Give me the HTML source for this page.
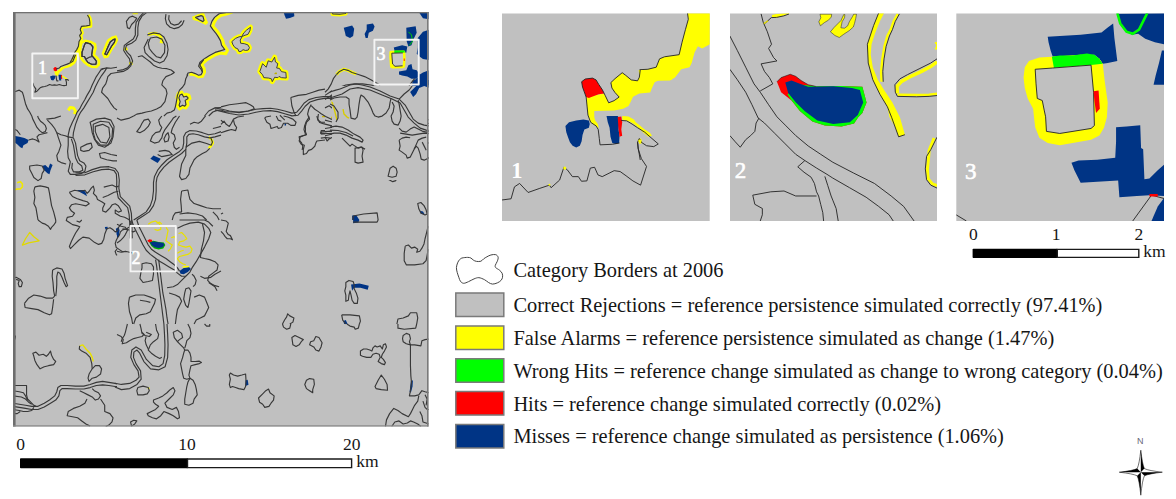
<!DOCTYPE html>
<html><head><meta charset="utf-8">
<style>
html,body{margin:0;padding:0;background:#fff;width:1176px;height:499px;overflow:hidden;}
body{position:relative;font-family:"Liberation Serif",serif;color:#161616;}
svg{position:absolute;left:0;top:0;}
svg path,svg rect,svg polyline,svg circle,svg ellipse{vector-effect:non-scaling-stroke;}
.t{position:absolute;white-space:nowrap;font-size:20.4px;line-height:1;}
.n{position:absolute;white-space:nowrap;font-size:17.5px;line-height:1;}
.lbl{position:absolute;white-space:nowrap;color:#fff;line-height:1;-webkit-text-stroke:0.6px #fff;}
</style></head><body>
<svg width="1176" height="499" viewBox="0 0 1176 499">
<defs>
<clipPath id="cm"><rect x="13" y="12" width="415.5" height="414.5"/></clipPath>
<clipPath id="c1"><rect x="502" y="13.5" width="207.7" height="207.5"/></clipPath>
<clipPath id="c2"><rect x="730" y="13.5" width="207" height="207.5"/></clipPath>
<clipPath id="c3"><rect x="956.3" y="13.5" width="207.7" height="207.5"/></clipPath>
</defs>
<!-- main map -->
<rect x="13" y="12" width="415.5" height="414.5" fill="#c0c0c0"/>
<g clip-path="url(#cm)" fill="none" stroke="#383838" stroke-width="1.15" stroke-linejoin="round">
<g id="mapcontent" vector-effect="non-scaling-stroke">
<g transform="translate(13,12) scale(0.20842)">
<g stroke="#ffff00" stroke-width="3">
<path d="M265,472 L275,458 L290,460 L300,475 L295,490"/>
</g>
<g>
<path d="M420,275 L450,268 L470,270 L499,265"/>
<path d="M435,270 L420,280 L410,295 L400,310 L390,330 L380,350 L370,375 L355,400 L345,420 L330,445 L320,465 L308,480 L300,499"/>
<path d="M450,268 L440,285 L425,305 L410,330 L395,360 L385,385 L370,410 L355,435 L340,460 L325,480 L315,499"/>
<path d="M499,290 L470,295 L455,310 L450,330 L445,345 L430,365 L425,385 L440,400 L455,415 L470,440 L485,460 L499,470"/>
<path d="M0,385 L15,380 L30,375 L45,385 L50,400 L55,420 L60,440 L70,465 L80,480 L90,499"/>
</g>
<g stroke="none">
</g>
</g>

<g transform="translate(117,12) scale(0.20842)">
<g stroke="#ffff00" stroke-width="3.2">
<path d="M75,3 L100,3"/>
<path d="M150,108 L180,102 L205,112 L215,135 L212,150"/>
<path d="M295,390 L310,385 L320,400 L330,395 L345,400 L350,415 L335,425 L340,445 L330,460 L315,455 L300,465 L290,450 L295,430 L288,410 Z"/>
<path d="M40,170 L45,185 M65,240 L68,255"/>
</g>
<g>
<path d="M145,0 L120,20 L105,45 L100,75 L100,110 L90,135 L70,150 L45,160 L40,180 L50,195 L65,210 L75,235 L65,260 L50,275 L30,285 L0,290"/>
<path d="M130,0 L108,25 L92,50 L88,80 L88,110 L78,130 L55,145 L35,160 L32,185 L45,205 L60,225 L65,250 L50,268 L25,278 L0,282"/>
<path d="M45,45 L60,25 L75,20 L95,30 L85,45 L70,60 L60,80 L50,75 Z"/>
<path d="M145,110 L175,100 L205,105 L225,120 L240,150 L245,180 L240,210 L225,235 L205,245 L180,235 L155,215 L135,195 L130,170 L140,150 L150,130"/>
<path d="M160,125 L190,120 L215,130 L230,160 L228,195 L210,220 L190,215 L170,195 L155,175 L150,150 Z"/>
<path d="M235,10 L232,32 L238,57 L255,73 L275,80 L297,74 L313,60 L322,40"/>
<path d="M250,15 L248,35 L258,55 L275,63 L295,58 L310,42"/>
<path d="M340,300 L330,320 L325,345 L315,360 L300,375 L290,400 L285,430 L280,455 L275,470 L260,480 L240,485 L225,499"/>
<path d="M302,398 L312,394 L320,408 L332,404 L340,410 L340,416 L327,424 L331,444 L325,452 L315,447 L302,455 L298,447 L303,430 L297,412 Z"/>
<path d="M100,215 L120,210 L140,225 L160,240 L175,255 L195,265 L215,270 L240,272 L260,278 L275,290 L260,300 L235,310 L220,330 L215,350 L235,370 L240,390 L235,410 L230,430 L210,455 L190,465 L165,475 L140,480 L120,485 L95,490 L80,499"/>
<path d="M420,499 L440,475 L470,460 L499,458"/>
<path d="M440,499 L460,480 L480,472 L499,470"/>
</g>
</g>

<g transform="translate(221,12) scale(0.20842)">
<g stroke="#ffff00" stroke-width="3.2">
</g>
<g>
<path d="M0,455 L40,445 L80,440 L120,435 L140,445 L155,455 L160,465 L130,475 L90,480 L50,480 L20,478 L0,470"/>
<path d="M335,410 L370,400 L410,395 L440,385 L470,375 L499,370"/>
<path d="M335,410 L340,450 L350,480 L360,499"/>
</g>
<path d="M300,0 L350,0 L352,20 L340,25 L325,30 L312,32 L305,15 Z" fill="#003485" stroke="none"/>
</g>

<g transform="translate(325,12) scale(0.20842)">
<g fill="#003485" stroke="none">
<path d="M450,0 L499,0 L499,35 L470,30 Z"/>
<path d="M90,75 L130,65 L140,80 L135,115 L120,125 L100,115 L95,95 Z"/>
<path d="M200,60 L230,55 L238,70 L230,90 L210,100 L205,125 L195,125 L190,105 L200,85 Z"/>
<path d="M390,75 L435,68 L440,100 L425,130 L415,160 L400,165 L392,140 Z"/>
<path d="M445,125 L470,95 L499,85 L499,230 L470,225 L455,215 L440,200 L445,170 Z"/>
<path d="M330,170 L370,160 L395,165 L390,195 L360,192 L335,192 Z"/>
<path d="M355,285 L390,280 L400,255 L415,250 L420,275 L440,280 L455,300 L440,320 L415,320 L395,310 L370,305 L355,300 Z"/>
<path d="M420,330 L440,320 L455,300 L470,290 L499,280 L499,350 L470,360 L445,370 L440,400 L425,410 L410,400 L415,370 Z"/>
</g>
<path d="M400,95 L415,110 L420,140 L405,160" stroke="#00cc00" stroke-width="1"/>
<g stroke="#ffff00" stroke-width="3">
<path d="M30,0 L35,12 L70,15 L100,10 L105,0"/>
<path d="M55,300 L70,285 L90,275 L110,280 L130,290 L150,298"/>
</g>
<path d="M35,420 L38,460 L42,499 M85,460 L92,480" stroke="#e8e000" stroke-width="1.5"/>
<g>
<path d="M34,2 L38,9 L70,11 L98,7 L101,0"/>
<path d="M55,300 L70,285 L90,275 L110,280 L130,290 L160,300 L190,310 L220,325 L245,340 L265,350"/>
<path d="M55,300 L40,320 L30,345 L15,370 L0,385"/>
<path d="M0,400 L30,380 L60,365 L100,350 L140,345 L180,345 L220,350 L260,360 L290,375 L310,395 L330,420 L360,440 L390,460 L420,480 L440,499"/>
<path d="M0,420 L30,400 L60,385 L100,370 L140,362 L180,362 L220,365 L260,375 L290,390 L305,410 L325,440 L355,460 L385,480 L400,499"/>
<path d="M430,320 L410,345 L395,370 L375,395 L360,410 L350,430"/>
<path d="M150,420 L165,400 L180,410 L200,430 L215,450 L230,480 L240,499"/>
<path d="M120,440 L130,470 L135,499"/>
<path d="M0,460 L20,450 L40,465 L50,499"/>
<path d="M330,440 L320,470 L310,499"/>
</g>
</g>

<g transform="translate(13,116) scale(0.20842)">
<g fill="#003485" stroke="none">
<path d="M5,95 L30,100 L55,105 L75,115 L70,130 L50,140 L45,155 L35,150 L20,135 L5,125 Z"/>
<path d="M140,240 L155,235 L170,250 L178,228 L190,235 L180,260 L175,280 L165,275 L150,260 Z"/>
<path d="M305,355 L340,355 L350,370 L355,385 L340,375 L320,365 Z"/>
</g>
<path d="M20,320 L35,315 L45,325 L45,340 L35,350 L20,350 L5,355" stroke="#f0e800" stroke-width="1.6"/>
<g>
<path d="M90,0 L95,15 L105,35 L115,55 L128,70 L140,80 L155,75 L160,60 L155,45 L145,35 L132,25 L122,10 L118,0"/>
<path d="M75,115 L95,110 L110,115 L125,125 L115,100 L125,90 L145,85 L165,80"/>
<path d="M160,15 L200,10 L230,0"/>
<path d="M165,20 L185,40 L200,60 L210,80 L230,90 L250,95 L265,100"/>
<path d="M210,80 L218,105 L230,140 L220,170 L210,190 L215,215 L235,225 L255,230"/>
<path d="M300,0 L285,30 L272,60 L265,90 L265,100"/>
<path d="M315,0 L300,40 L290,80 L288,100"/>
<path d="M265,100 L290,105 L300,130 L305,160 L310,190 L320,215 L340,225 L350,240 L345,265 L330,275 L300,280 L275,280 L265,265 L270,245 L275,220 L265,200 L262,170 L265,140 Z"/>
<path d="M280,110 L290,140 L295,170 L300,200 L312,225 L330,240 L335,260 L318,268 L290,268 L282,250 L285,225"/>
<path d="M370,30 L400,15 L440,10 L470,20 L485,50 L480,100 L470,130 L440,150 L410,140 L390,110 L380,80 L375,50 Z"/>
<path d="M385,40 L420,25 L460,30 L478,60 L475,105 L455,140 L420,140 L395,115 L385,80 Z"/>
<path d="M395,50 L430,40 L460,55 L465,100 L450,130 L420,125 L405,100 L395,75 Z"/>
<path d="M325,150 L355,135 L375,130 L380,150 L365,165 L340,170 L325,165 Z"/>
<path d="M499,190 L470,185 L440,175 L415,180 L420,200 L450,210 L480,215 L499,215"/>
<path d="M80,240 L115,235 L140,240 L150,260 L140,275 L135,300 L120,310 L100,295 L90,275 L80,255 Z"/>
<path d="M105,340 L130,335 L155,340 L170,345 L175,370 L180,400 L185,430 L195,460 L205,499"/>
<path d="M105,340 L100,360 L105,390 L100,420 L110,440 L115,470 L120,499"/>
<path d="M0,60 L20,70 L35,90"/>
</g>
</g>

<g transform="translate(117,116) scale(0.20842)">
<path d="M160,205 L175,190 L210,205 L195,225 Z" fill="#003485" stroke="none"/>
<path d="M440,100 L455,115 L460,130 L450,145 L440,155" stroke="#ffff00" stroke-width="2.5"/>
<g>
<path d="M80,499 L110,480 L140,460 L160,430 L170,400 L175,360 L175,320 L180,290 L195,260 L215,235 L240,210 L270,190 L300,170 L315,155 L320,130 L320,100 L330,80 L350,70 L380,72 L410,80 L440,90 L470,85 L499,75"/>
<path d="M95,499 L125,480 L155,460 L175,430 L185,400 L188,360 L188,320 L192,295 L205,270 L225,245 L250,222 L280,200 L310,180 L330,160 L335,130 L335,100 L345,88 L365,85 L390,90 L420,100 L445,105 L470,100 L499,92"/>
<path d="M330,150 L360,130 L395,122 L430,132 L452,140 L458,125 L450,105"/>
<path d="M0,10 L20,20 L40,15 L60,10 L80,0"/>
<path d="M130,20 L150,15 L160,30 L150,50 L130,70 L110,80 L95,75 L110,55 L120,35 Z"/>
<path d="M215,0 L200,20 L205,40 L215,55 L205,75 L185,80 L170,95 L160,120 L180,130 L200,125 L215,105 L220,85 L230,65 L245,45 L260,25 L270,10 L285,0"/>
<path d="M245,80 L250,100 L245,120 L230,125 L225,110 L235,90 Z"/>
<path d="M300,0 L280,30 L265,60 L260,80 L275,90 L280,110 L270,130 L275,150 L285,160 L300,150"/>
<path d="M200,170 L230,165 L250,170 L265,185 L240,190 L215,195 L195,185"/>
<path d="M330,160 L330,190 L320,210 L310,230 L305,260 L300,290 L310,305 L330,300 L345,280 L350,250 L360,230 L370,210 L385,195 L410,180 L430,170 L445,155"/>
<path d="M350,40 L370,30 L390,35 L405,25 L420,5 L425,0"/>
<path d="M460,60 L480,55 L499,50"/>
<path d="M310,360 L340,355 L345,380 L350,400 L370,420 L400,430 L430,440 L460,445 L499,445"/>
<path d="M310,360 L305,400 L308,430 L310,460 L280,465 L270,480 L265,499"/>
<path d="M300,470 L340,465 L380,470 L410,480 L430,499"/>
<path d="M460,460 L480,480 L490,499"/>
</g>
</g>

<g transform="translate(221,116) scale(0.20842)">
<path d="M305,35 L312,35 L312,45 L305,45 Z" fill="#003485" stroke="none"/>
<path d="M485,3 L499,3" stroke="#c8b400" stroke-width="1.2"/>
<g>
<path d="M0,40 L15,25 L25,40 L40,50 L50,35 L60,15 L80,5 L110,0"/>
<path d="M0,80 L30,70 L50,65 L70,70 L75,55 L65,40 L60,20"/>
<path d="M0,20 L10,30"/>
<path d="M240,0 L215,5 L210,10 L220,30 L235,40 L240,60 L255,55 L270,50 L275,60 L290,55 L300,35 L320,35 L335,45 L355,45 L360,30 L345,15 L320,5 L300,0"/>
<path d="M265,0 L275,20 L290,25"/>
<path d="M420,0 L425,15 L410,30 L405,50 L405,75 L410,90 L395,95 L380,100 L375,120 L385,135 L400,140 L395,160 L395,185 L410,180 L420,165 L435,160 L450,145 L455,130 L460,120 L499,115"/>
<path d="M460,0 L465,20 L480,30 L499,30"/>
<path d="M480,70 L499,70 M480,85 L499,85 M480,70 L480,85"/>
<path d="M0,470 L10,465"/>
</g>
</g>

<g transform="translate(325,116) scale(0.20842)">
<g fill="#003485" stroke="none">
<path d="M455,455 L470,458 L478,472 L460,470 Z"/>
<path d="M130,478 L150,476 L165,499 L130,499 Z"/>
</g>
<path d="M30,5 L45,20 L60,15 M90,3 L112,8" stroke="#d8cc00" stroke-width="1.3"/>
<g>
<path d="M0,20 L20,25 L40,30 L60,20"/>
<path d="M125,0 L130,15 L150,20 L160,10 L160,0"/>
<path d="M0,60 L30,55 L60,50 L80,55 L110,75 L140,90 L170,105 L180,115 L185,125 L175,125 L160,120 L140,110 L120,100 L100,95 L80,90 L60,85 L40,85 L20,90 L0,95"/>
<path d="M0,75 L40,72 L80,80 L120,100 L150,115 L170,130"/>
<path d="M0,100 L10,120 L20,110 L40,100 L60,95"/>
<path d="M90,120 L100,135 L130,150 L145,160"/>
<path d="M145,160 L180,150 L195,165 L185,185 L185,220 L170,230 L150,225 L145,200 Z"/>
<path d="M300,290 L310,260 L315,240 L325,245 L340,255 L350,270 L340,290 L340,310 L325,315 L305,305 Z"/>
<path d="M330,0 L325,20 L340,35 L350,30 L360,10 L370,0"/>
<path d="M400,0 L420,20 L445,35 L470,40 L499,35"/>
<path d="M440,0 L460,15 L480,20 L499,18"/>
<path d="M355,80 L370,60 L390,55 L410,50 L430,40 L450,50 L470,60 L490,65"/>
<path d="M355,120 L350,150 L355,180 L370,195 L390,205 L400,190 L410,170 L420,150 L430,145 L440,160 L450,180 L460,200 L475,210 L490,205 L499,200"/>
<path d="M360,95 L380,100 L410,95 L440,90 L470,100 L490,110"/>
<path d="M360,120 L400,120 L440,110 L470,120 L499,130"/>
<path d="M355,80 L360,95 L360,120"/>
<path d="M460,130 L475,150 L480,170"/>
<path d="M445,420 L460,415 L475,430 L485,450 L490,470 L480,475 L460,465 L450,445 Z"/>
<path d="M135,480 L185,470 L250,465 L255,499 M135,480 L135,499"/>
</g>
</g>

<g transform="translate(13,220) scale(0.20842)">
<g fill="#003485" stroke="none">

</g>
<path d="M45,120 L60,90 L80,60 L100,80 L125,100 L100,105 L75,110 Z" stroke="#e0d800" stroke-width="1.3"/>
<g>
<path d="M120,0 L140,15 L155,20 L170,30 L180,45 L185,35 L195,25 L205,10 L205,0"/>
<path d="M330,0 L320,10 L305,5"/>
<path d="M499,140 L490,150 L495,165 L499,170"/>
<path d="M190,240 L210,230 L235,235 L245,255 L250,280 L262,315 L255,320 L245,300 L235,275 L225,255 L215,250 L210,270 L210,310 L208,340 L205,365"/>
<path d="M190,240 L188,270 L192,300 L195,340 L200,365"/>
<path d="M55,400 L75,375 L100,360 L130,365 L160,375 L190,375 L200,365"/>
<path d="M55,400 L58,420 L90,425 L120,430 L150,445 L175,455 L185,450 L190,420 L195,380"/>
<path d="M0,280 L15,275 L35,285 L45,300 L40,320 L30,320 L25,305 L30,290 L15,285"/>
</g>
</g>

<g transform="translate(117,220) scale(0.20842)">
<g stroke="#e8e000" stroke-width="1.2">
<path d="M150,20 L165,10 L185,5 L200,15 L210,30 L210,45 L195,50 L180,45"/>
<path d="M190,15 L205,10 L215,20"/>
<path d="M235,35 L245,50 L240,75 L235,100 L250,110 L265,120 L255,140 L245,150"/>
<path d="M260,85 L275,80 L285,95 L280,110"/>
<path d="M295,65 L310,60 L325,75 L335,90 L320,100 L300,105 L295,120 L310,125 L330,130 L350,125 L360,140 L355,155 L340,165 L320,170 L300,175 L290,185 L300,200 L315,210 L330,215"/>
<path d="M290,160 L305,150 L320,145"/>
</g>
<path d="M145,100 L155,92 L167,95 L172,105 L160,112 Z" fill="#ff0000" stroke="none"/>
<path d="M155,108 L175,100 L200,105 L225,108 L232,120 L222,137 L200,141 L180,137 L165,125 Z" fill="#00b000" stroke="none"/>
<path d="M158,108 L175,103 L200,107 L222,110 L227,120 L218,131 L200,134 L182,131 L168,122 Z" fill="#003485" stroke="none"/>
<path d="M300,245 L320,230 L345,225 L355,235 L340,250 L320,260 L305,258 Z" fill="#003485" stroke="none"/>
<path d="M315,225 L345,223" stroke="#ffff00" stroke-width="1.5"/>
<path d="M0,60 L10,60 L10,80 L0,85 Z" fill="#003485" stroke="none"/>
<g>
<path d="M70,0 L80,30 L95,60 L110,90 L125,120 L140,145 L160,165 L180,180 L200,195 L225,210 L250,225 L275,240 L290,255 L310,270 L330,270"/>
<path d="M95,0 L105,30 L120,60 L135,90 L150,120 L165,140 L185,155 L210,170 L235,185 L255,200 L275,215 L290,230 L300,245"/>
<path d="M185,190 L190,220 L195,260 L200,300 L205,340 L210,380 L215,420 L220,460 L225,499"/>
<path d="M200,190 L205,230 L210,270 L215,310 L220,350 L228,390 L235,430 L240,470 L245,499"/>
<path d="M290,40 L320,25 L350,15 L390,10 L420,20 L440,40 L450,60 L440,90 L420,130 L400,165 L380,200 L360,230 L350,250 L330,270 L310,290 L290,310 L270,320 L240,325"/>
<path d="M300,0 L380,0 L420,0 L440,10 L460,30"/>
<path d="M410,20 L420,60 L415,100 L405,140 L400,180 L420,185 L445,190 L470,200 L485,215 L480,240 L460,255 L440,270 L435,290 L450,305 L470,315 L490,320"/>
<path d="M360,260 L370,270 L380,290 L375,310 L365,320"/>
<path d="M0,150 L20,155 L40,150 L60,155 L80,160"/>
<path d="M0,20 L20,30 L40,35 L50,50 L40,70 L30,85 L15,100 L0,110"/>
<path d="M120,210 L140,205 L165,210 L175,225 L175,260 L170,290 L150,295 L125,300 L110,280 L115,250 L120,230 Z"/>
<path d="M60,370 L90,360 L130,360 L160,370 L185,380 L180,400 L170,420 L160,440 L140,450 L110,455 L90,470 L80,499"/>
<path d="M60,370 L55,400 L60,440 L70,470 L75,499"/>
<path d="M110,385 L140,390 L160,395"/>
<path d="M330,330 L345,325 L355,340 L350,370 L345,400 L340,420 L330,410 L320,380 L325,350 Z"/>
<path d="M370,370 L395,360 L420,370 L430,395 L440,420 L430,440 L420,460 L400,470 L380,480 L370,499"/>
<path d="M250,350 L280,360 L300,370 L310,390 L300,410 L290,430 L285,460 L280,499"/>
<path d="M400,270 L420,280 L450,275 L470,260 L490,250 L499,245"/>
<path d="M440,300 L470,320 L480,340"/>
</g>
</g>

<g transform="translate(221,220) scale(0.20842)">
<path d="M0,0 L25,5 L35,15 L30,35 L25,55 L35,70 L45,75 L55,95 L45,90 L30,90 L20,80 L10,65 L0,55"/>
<path d="M295,499 L305,480 L315,465 L320,450 L330,460 L350,470 L345,490 L330,499"/>
</g>

<g transform="translate(325,220) scale(0.20842)">
<g fill="#003485" stroke="none">
<path d="M135,0 L165,0 L160,12 L135,15 Z"/>
<path d="M125,310 L165,305 L210,315 L205,335 L170,325 L140,325 L130,340 Z"/>
<path d="M88,485 L100,480 L108,499 L92,499 Z"/>
</g>
<g>
<path d="M135,10 L250,10 L255,0"/>
<path d="M385,125 L400,120 L415,135 L430,130 L445,140 L440,155 L455,150 L465,135 L475,115 L480,90 L485,70 L490,50 L495,30"/>
<path d="M385,125 L380,160 L380,195 L390,215 L430,215 L470,210 L485,195 L490,170 L495,140"/>
<path d="M100,300 L115,290 L135,295 L140,310 L140,330 L150,350 L158,375 L155,400 L140,400 L130,385 L125,360 L120,340 L115,360 L112,385 L100,390 L100,360 L95,340 L100,320 Z"/>
<path d="M80,455 L120,455 L165,460 L170,485 L165,499 M80,455 L85,480 L100,499"/>
<path d="M345,499 L350,475 L375,470 L400,460 L410,445 L440,445 L445,470 L440,499"/>
</g>
</g>

<g transform="translate(13,324) scale(0.20842)">
<path d="M320,105 L335,100 L350,120 L370,140 L380,160 L385,180" stroke="#e8e000" stroke-width="1.4"/>
<g>
<path d="M95,140 L110,135 L125,150 L145,145 L160,155 L170,145 L180,130 L185,150 L195,170 L205,180 L195,195 L170,200 L150,205 L130,215 L115,195 L105,175 L100,155 Z"/>
<path d="M320,105 L318,120 L330,130 L350,140 L370,160 L378,190 L380,215"/>
<path d="M380,215 L395,200 L415,200 L425,215 L420,240 L400,255 L380,260 L365,275 L360,260 L365,240 Z"/>
<path d="M0,380 L30,385 L60,390 L90,395 L120,395 L150,380 L175,365 L200,345 L210,325 L215,305 L230,295 L260,295 L300,298 L340,298 L370,290 L400,280 L430,275 L460,280 L490,285 L499,288"/>
<path d="M0,395 L30,400 L60,405 L90,410 L120,410 L150,398 L180,380 L205,365 L220,345 L225,320 L235,310 L260,310 L300,312 L340,312 L370,305 L400,295 L430,292 L460,295 L490,300 L499,300"/>
<path d="M0,295 L65,295 L65,340 L70,360 L85,375 L100,390 L110,395"/>
<path d="M0,320 L30,325 L50,330 L60,345 L70,365"/>
<path d="M0,345 L40,350 L60,360 L75,375 L90,385"/>
<path d="M0,410 L30,415 L50,420 L70,420 L90,415 L100,400"/>
<path d="M0,430 L20,430 L35,420"/>
<path d="M320,320 L340,330 L360,340 L380,350 L395,365 L410,360 L420,345 L410,330 L390,320 L380,310"/>
<path d="M355,360 L345,380 L320,395 L290,405 L265,420 L260,440 L285,445 L310,450 L330,465 L350,480 L370,490"/>
<path d="M420,360 L440,390 L440,420 L465,430 L480,450 L475,470 L460,485 L445,492"/>
<path d="M5,50 L12,60 L8,75"/>
</g>
</g>

<g transform="translate(117,324) scale(0.20842)">
<circle cx="152" cy="308" r="5" fill="#ffff00" stroke="none"/>
<g>
<path d="M0,50 L20,60 L30,75 L25,95 L45,90 L60,80 L80,70 L100,65 L120,60 L130,50 L120,40"/>
<path d="M50,0 L45,20 L40,40 L35,55 L25,70 L20,85"/>
<path d="M110,0 L115,20 L120,45 L135,55 L155,60 L165,50 L140,40"/>
<path d="M185,0 L190,30 L200,50 L195,70 L175,85 L160,100 L150,125 L165,140 L185,155 L205,165 L215,160"/>
<path d="M140,60 L135,80 L140,100 L150,120"/>
<path d="M270,40 L290,30 L310,45 L315,65 L300,75 L290,85 L275,65 Z"/>
<path d="M290,85 L305,100 L320,115 L325,125 L340,125 L350,140 L355,160 L355,180 L375,180 L395,178 L405,185 L395,190 L375,195 L355,200 L350,220 L345,245 L350,260 L335,265 L320,260 L315,240 L310,215 L305,190 L315,160 L320,140 L325,125"/>
<path d="M340,0 L350,20 L355,45 L350,65 L335,80 L330,100 L325,115"/>
<path d="M350,260 L365,270 L375,290 L380,310 L385,340 L370,360 L365,380 L345,390 L325,385 L325,360 L330,330 L335,300 L340,280 L350,260"/>
<path d="M420,0 L430,10 L445,10 L445,0"/>
<path d="M175,365 L200,355 L220,345 L240,330 L255,315 L270,305 L278,320 L270,340 L250,360 L230,380 L240,400 L265,410 L285,400 L295,420 L300,450 L290,455 L270,440 L250,430 L225,420 L210,440 L190,455 L170,450 L150,440 L145,430 L165,420 L185,410 L200,395 L185,385 L175,375 Z"/>
<path d="M100,305 L125,298 L150,305 L155,320 L145,335 L125,340 L100,340 L95,320 Z"/>
<path d="M65,470 L80,462 L95,465 L85,480 L70,490 Z"/>
</g>
</g>

<g transform="translate(221,324) scale(0.20842)">
<path d="M118,270 L128,268 L132,292 L118,298 Z" fill="#003485" stroke="none"/>
<g>
<path d="M295,0 L300,15 L315,25 L330,20 L335,0"/>
<path d="M340,65 L355,55 L375,65 L395,75 L385,85 L375,100 L360,108 L345,100 Z"/>
<path d="M430,85 L445,80 L455,60 L470,65 L485,90 L480,110 L470,130 L455,125 L445,110 L425,100 Z"/>
<path d="M45,235 L60,245 L80,250 L100,245 L118,240 L120,270 L118,300 L110,315 L85,310 L70,305 L55,300 L45,305 L40,290 L45,265 L40,245 Z"/>
<path d="M180,355 L200,335 L215,320 L228,312 L235,330 L255,345 L252,365 L240,380 L230,395 L210,400 L200,385 L185,375 Z"/>
<path d="M410,270 L425,262 L445,265 L448,290 L440,315 L440,330 L425,320 L410,310 L402,290 Z"/>
</g>
</g>

<g transform="translate(325,324) scale(0.20842)">
<path d="M412,275 L422,270 L420,300 L412,330 L406,325 Z" fill="#003485" stroke="none"/>
<g>
<path d="M105,0 L120,10 L140,15 L145,25 L160,20 L165,0"/>
<path d="M350,0 L350,20 L380,25 L435,20 L440,0"/>
<path d="M170,130 L185,120 L200,120 L215,125 L225,130 L230,115 L240,105 L250,110 L265,105 L275,120 L280,100 L290,95 L295,110 L285,130 L275,145 L270,160 L280,170 L290,185 L285,195 L270,190 L255,180 L265,160 L260,145 L245,140 L230,145 L220,160 L200,160 L180,155 L170,150 Z"/>
<path d="M240,300 L255,270 L270,245 L285,265 L298,290 L300,318 L270,315 L245,310 Z"/>
<path d="M375,55 L390,45 L405,50 L410,70 L405,85 L410,100 L390,95 L375,85 L372,70 Z"/>
<path d="M410,100 L430,100 L460,105 L465,80 L480,75 L499,72"/>
<path d="M410,100 L410,150 L410,200 L412,250 L415,280 L410,320 L405,345 L430,345 L450,340 L465,320 L480,325 L499,330"/>
<path d="M450,345 L445,370 L430,390 L420,410 L410,430 L400,445 L370,430 L350,415 L330,405 L310,430 L295,460 L290,492"/>
<path d="M320,492 L335,470 L355,465 L375,480 L395,475 L410,465 L425,470 L445,480 L460,492"/>
<path d="M470,370 L480,400 L490,410 L499,410"/>
<path d="M455,420 L465,440 L470,470 L485,475 L499,480"/>
<path d="M480,340 L490,360 L485,390"/>
</g>
</g>

<g transform="translate(215,90) scale(0.12024)">
<path d="M0,150 L60,160 L120,175 L200,188 L280,175 L340,160 L400,155 L460,152 L520,160 L580,175 L640,192 L680,185 L710,150 L740,110 L780,80 L840,62 L900,55 L960,55 L998,60"/>
<path d="M0,165 L60,180 L120,195 L200,208 L280,200 L340,185 L400,175 L460,172 L520,180 L580,198 L640,215 L690,210 L720,175 L750,135 L790,100 L850,80 L910,70 L960,68 L998,70"/>
<path d="M800,120 L780,160 L770,200 L780,230 L760,260 L745,300 L740,330 L750,360 L760,370 L730,380 L700,390 L705,420 L720,440 L730,470 L725,499"/>
<path d="M800,130 L830,160 L860,180 L880,195 L920,220 L960,240 L998,250"/>
<path d="M860,200 L855,240 L870,270 L900,280 L940,290 L980,300 L998,300"/>
<path d="M880,350 L940,345 L998,340 M880,365 L940,362 L998,360 M880,350 L880,365"/>
<path d="M880,400 L920,395 L960,400"/>
<path d="M540,210 L560,230 L580,250"/>
</g>

<g transform="translate(70,15) scale(0.12024)">
<path d="M152,0 L168,25 L174,60 L174,94 L137,98 L103,103 L95,122 L104,150 L90,172 L99,196 L85,222 L80,260 L64,292 L50,313 L40,342 L25,372 L10,398 L0,412" stroke="#ffff00" stroke-width="2.8"/>
<path d="M125,215 L175,225 L208,242 L212,278 L202,312 L200,335 L225,355 L240,378 L240,412 L218,433 L180,430 L148,414 L118,390 L98,368 L88,340 L84,300 L88,262 L95,230 Z" stroke="#ffff00" stroke-width="2.6"/>
<path d="M130,230 L170,240 L190,265 L185,300 L180,335 L205,365 L220,385 L215,410 L180,410 L150,395 L135,375 L120,345 L100,345 L100,310 L110,280 L120,250 Z" fill="#c0c0c0"/>
<path d="M275,320 L290,280 L305,240 L320,210 L350,190 L380,180 L390,205 L375,240 L350,275 L330,310 L310,345 L290,350 Z" stroke="#ffff00" stroke-width="2.6"/>
<path d="M290,325 L305,290 L320,255 L335,225 L360,205 L375,200 L370,225 L345,260 L325,295 L305,330 Z" fill="#c0c0c0"/>
<path d="M145,0 L160,25 L165,60 L165,85 L135,90 L95,95 L85,120 L95,150 L80,170 L90,195 L75,220 L70,260 L55,290 L40,310 L30,340 L15,370 L0,395"/>
<path d="M130,230 L170,240 L190,265 L185,300 L180,335 L205,365 L220,385 L215,410 L180,410 L150,395 L135,375 L120,345 L100,345 L100,310 L110,280 L120,250 Z"/>
<path d="M135,365 L165,350 L185,345"/>
<path d="M290,325 L305,290 L320,255 L335,225 L360,205 L375,200 L370,225 L345,260 L325,295 L305,330 Z"/>
</g>

<g transform="translate(40,50) scale(0.08016)">
<path d="M465,0 L452,65 L425,135 L385,172 L342,190 L300,205 L262,215 L235,245 L205,265 L180,262 L185,300 L200,320 L230,320 L235,290 L265,262 L300,232 L345,222 L390,205 L435,172 L470,110 L490,40 L490,0 Z" fill="#ffff00" stroke="none"/>
<path d="M168,232 L180,214 L200,212 L214,232 L212,258 L190,265 L172,255 Z" fill="#ff0000" stroke="none"/>
<path d="M125,330 L160,318 L195,322 L185,355 L165,382 L140,375 Z" fill="#003485" stroke="none"/>
<path d="M230,310 L262,308 L265,380 L240,382 Z" fill="#003485" stroke="none"/>
<path d="M262,310 L275,312 L276,362 L264,362 Z" fill="#ff0000" stroke="none"/>
<path d="M275,318 L300,330 L330,350 L352,372 L340,378 L312,358 L285,340 L272,332 Z" fill="#ffff00" stroke="none"/>
<path d="M445,55 L410,140 L380,158 L340,176 L300,190 L260,205 L240,225 L215,232 L200,240"/>
<path d="M200,320 L205,360 L210,385 L230,385"/>
<path d="M0,470 L30,460 L60,455 L90,445 L120,430 L150,440 L180,435 L210,440 L240,430 L270,440 L300,445 L330,440 L330,400 L320,370 L345,370 L360,380"/>
</g>

<g transform="translate(225,20) scale(0.08016)">
<path d="M85,270 L130,230 L175,210 L210,205 L235,160 L270,125 L318,90 L310,135 L285,180 L250,190 L215,205 L190,250 L195,290 L240,295 L285,310 L305,345 L290,375 L255,380 L225,370 L200,392 L175,395 L160,360 L125,345 L100,310 Z" stroke="#ffff00" stroke-width="5" fill="none"/>
<path d="M85,270 L130,230 L175,210 L210,205 L235,160 L270,125 L318,90 L310,135 L285,180 L250,190 L215,205 L190,250 L195,290 L240,295 L285,310 L305,345 L290,375 L255,380 L225,370 L200,392 L175,395 L160,360 L125,345 L100,310 Z" fill="#c0c0c0" stroke="#333" stroke-width="0.9"/>
</g>
<g transform="translate(255,50) scale(0.08016)">
<path d="M60,270 L95,170 L140,215 L165,135 L210,150 L245,90 L255,150 L285,170 L270,225 L305,230 L330,270 L385,280 L390,350 L330,345 L300,330 L285,345 L245,340 L215,395 L205,360 L170,350 L110,345 L95,310 Z" stroke="#ffff00" stroke-width="5" fill="none"/>
<path d="M60,270 L95,170 L140,215 L165,135 L210,150 L245,90 L255,150 L285,170 L270,225 L305,230 L330,270 L385,280 L390,350 L330,345 L300,330 L285,345 L245,340 L215,395 L205,360 L170,350 L110,345 L95,310 Z" fill="#c0c0c0" stroke="#333" stroke-width="0.9"/>
<path d="M245,300 L262,285 L270,300" stroke="#bbb000" stroke-width="1.2"/>
</g>

<g transform="translate(117,324) scale(0.20842)">
<path d="M-10,284 L21,290 L61,285 L91,270 L106,255 L101,225 L81,195 L66,160 L71,125 L91,110 L116,125 L141,170 L171,200 L201,205 L221,190 L229,150 L230,100 L228,50 L225,0"/>
<path d="M-10,302 L21,315 L61,310 L96,290 L116,265 L113,225 L91,190 L79,160 L81,135 L96,125 L109,140 L129,180 L161,215 L201,220 L231,205 L243,160 L245,100 L243,50 L240,0"/>
</g>

<g transform="translate(13,130) scale(0.20842)">
<path d="M300,205 L345,205 L380,190 L420,178 L460,176 L490,185 L505,205 L510,240 L508,280 L515,320 L540,345 L560,365 L568,400 L570,440 L572,520"/>
<path d="M300,218 L345,215 L385,200 L425,190 L460,188 L485,195 L496,212 L498,245 L497,285 L505,325 L530,352 L550,372 L557,405 L560,445 L562,520"/>
</g>

<rect x="332" y="86" width="96" height="94" fill="#c0c0c0" stroke="none"/>
<g transform="translate(330,80) scale(0.2004)">
<path d="M400,60 L420,40 L440,20 L460,0 L499,0 L499,40 L470,30 L445,40 L430,70 L415,85 Z" fill="#003485" stroke="none"/>
<path d="M10,110 L20,140 L25,160 L30,180 L35,200 M65,145 L70,170 L85,185 L95,190" stroke="#d8cc00" stroke-width="1.4"/>
<path d="M50,45 L100,25 L130,20 L160,25 L200,35 L250,55 L300,80 L345,95 L375,125 L395,160 L415,195 L440,215 L470,225 L499,230"/>
<path d="M0,90 L30,80 L60,70 L100,45 L140,38 L200,50 L260,75 L310,95 L350,115 L370,150 L390,185 L420,215 L450,240 L480,250 L499,252"/>
<path d="M0,60 L25,52 L50,45"/>
<path d="M0,100 L20,90 L50,85 L80,85 L95,95 L95,120 L100,150 L105,190 L125,195 L135,185 L140,160 L145,120 L150,90 L155,75 L170,85 L190,110 L205,140 L215,165 L225,180 L240,185 L260,180 L280,165 L295,140 L300,110 L305,90"/>
<path d="M0,120 L20,130 L40,160 L40,190 L30,210"/>
<path d="M0,235 L30,230 L60,235 L90,250 L120,270 L150,285 L165,300 L160,310 L140,300 L110,290 L80,275 L50,265 L20,265 L0,270"/>
<path d="M0,250 L40,252 L80,262 L115,280"/>
<path d="M60,290 L80,310 L100,330 L110,320 L125,330 L140,340 L155,335 L175,345"/>
<path d="M125,340 L160,335 L165,350 L160,380 L165,410 L140,415 L125,410 L125,380 Z"/>
<path d="M310,110 L320,130 L315,160 L305,180 L310,205 L320,220 L340,225 L350,205 L355,180 L350,150 L345,120 L340,100"/>
<path d="M345,240 L360,255 L380,260 L400,245 L420,235 L440,245 L460,255 L480,260 L499,255"/>
<path d="M350,265 L380,270 L410,275 L440,270 L470,265 L499,268"/>
<path d="M345,300 L350,330 L345,350 L360,360 L380,375 L385,390 L400,385 L410,365 L420,345 L430,330 L440,340 L450,370 L455,395 L470,400 L490,390 L499,385"/>
<path d="M345,300 L360,290 L380,285 L400,288"/>
<path d="M420,345 L440,300 L460,290 L480,285"/>
<path d="M460,310 L470,330 L480,350"/>
<path d="M300,440 L315,430 L330,440 L335,460 L330,480 L310,485 L290,480 L295,460 Z"/>
<path d="M345,95 L370,70 L395,50 L410,30"/>
</g>

<g transform="translate(60,160) scale(0.20842)">
<path d="M215,322 L228,320 L230,332 L218,334 Z M268,330 L282,322 L286,340 L280,368 L272,360 Z" fill="#003485" stroke="none"/>
<path d="M45,155 L70,145 L95,150 L120,145 L130,160 L140,150 L150,135 L160,125 L165,145 L160,160 L175,175 L180,190 L200,200 L215,210 L205,230 L205,245 L220,250 L230,240 L240,230 L250,215 L265,210 L280,220 L290,235 L295,245 L280,250 L265,240 L265,255 L290,270 L310,275 L330,285 L340,300 L335,320 L320,330 L300,335 L290,345 L285,360 L275,375 L270,385 L265,400 L270,420 L285,430 L300,440 L320,440"/>
<path d="M45,155 L60,175 L80,185 L110,195 L130,200 L140,210 L125,220 L100,215 L75,210 L55,215 L45,230 L55,245 L70,255 L60,270 L35,275 L30,290 L45,300 L60,310 L80,315 L95,320 L85,335 L75,350 L65,370 L55,390 L45,415 L50,425 L70,405 L90,385 L110,370 L140,375 L165,395 L185,405 L200,400 L210,380 L215,355 L225,330 L240,325 L255,335 L265,345 L275,340 L280,325 L290,310 L300,305"/>
<path d="M210,130 L250,120 L270,130 L282,125"/>
<path d="M205,180 L230,170 L260,155 L280,150"/>
<path d="M300,330 L330,335 L350,345 L362,340"/>
</g>

<g transform="translate(180,12) scale(0.12024)">
<path d="M435,0 L385,17 L336,30 L303,56 L285,84 L272,115 L288,136 L313,165 L333,195 L354,232 L364,272 L395,318 L380,348 L337,341 L298,353 L255,378 L217,402 L185,430 L176,450 L194,472 L204,499" stroke="#ffff00" stroke-width="3"/>
<path d="M425,-5 L375,5 L325,15 L287,45 L265,78 L252,115 L272,145 L297,175 L317,205 L336,238 L346,278 L372,312 L335,323 L292,336 L245,362 L203,388 L165,420 L155,450 L176,478 L186,499"/>
<path d="M100,40 L150,18 L198,2 L212,40 L234,90 L215,108 L180,92 L150,77 L108,66 Z" fill="#ffff00" stroke="none"/>
<path d="M130,45 L175,30 L190,35 L200,70 L190,80 L160,65 Z" fill="#c0c0c0"/>
<path d="M150,0 L195,0 L200,5"/>
</g>

<g transform="translate(170,60) scale(0.12024)">
<path d="M300,-5 L266,40 L285,70 L289,102 L272,136 L240,142 L210,128 L180,118 L160,120" stroke="#ffff00" stroke-width="2.6"/>
<path d="M282,-5 L248,40 L266,72 L270,100 L258,122 L238,127 L210,113 L180,102 L150,108 L140,128"/>
</g>

<g transform="translate(13,12) scale(0.20842)">
<path d="M95,340 L100,355 L110,370 L105,385 L115,380 L130,364"/>
</g>

<path d="M389.4,52 Q389.6,50.8 391,50.8 L404,50.6 Q405.3,50.7 405.3,52 L405.6,58 L405.2,66 Q405,68.2 402.5,68.2 L392.2,68.4 Q390,68.3 389.9,66 L389.3,57 Z" fill="#ffff00" stroke="none"/>
<path d="M394.3,50.6 L404.3,50.6 L405,52.6 L394.3,53 Z" fill="#00ff00" stroke="none"/>
<path d="M391.8,53.2 L402.8,52.9 L403.2,60 L402.6,65.8 L395,66.3 L392.6,64 L392.1,58 Z" fill="#c8c8c8" stroke="none"/>
<path d="M402.8,52.9 L391.8,53.2 L392.1,58 L392.6,64 L395,66.3 L402.6,65.8" fill="none" stroke="#2a2a2a" stroke-width="0.9"/>
<path d="M403.7,58.6 L404.9,58.6 L404.9,61 L403.7,61 Z" fill="#ff5000" stroke="none"/>
<!--MAPEND-->
<g stroke="#f4f4f4" stroke-width="1.9" fill="none">
<rect x="32.3" y="53.5" width="45.6" height="44.8"/>
<rect x="130.5" y="226" width="45.3" height="45.4"/>
<rect x="374.4" y="39.8" width="44.3" height="44.7"/>
</g>

</g>
</g>
<!-- main map border -->
<rect x="13" y="12" width="2.6" height="414.5" fill="#6e6e6e"/>
<rect x="13" y="12" width="415.5" height="1.3" fill="#707070"/>
<rect x="427" y="12" width="1.5" height="414.5" fill="#7a7a7a"/>
<rect x="13" y="425.3" width="415.5" height="1.2" fill="#888"/>

<!-- insets -->
<rect x="502" y="13.5" width="207.7" height="207.5" fill="#c0c0c0"/>
<rect x="730" y="13.5" width="207" height="207.5" fill="#c0c0c0"/>
<rect x="956.3" y="13.5" width="207.7" height="207.5" fill="#c0c0c0"/>
<g id="inset1" clip-path="url(#c1)">
<g transform="translate(502,13) scale(0.41683)">
<path d="M328,137 L350,135 L370,130 L378,110 L390,105 L425,100 L432,70 L440,40 L447,15 L445,0 L499,0 L499,75 L480,85 L470,80 L462,95 L455,120 L450,130 L430,135 L415,155 L403,162 L330,162 Z" fill="#ffff00"/>
<path d="M330,136 L350,135 L370,130 L378,110 L390,105 L425,100 L432,70 L440,40 L447,15 L445,0" fill="none" stroke="#222" stroke-width="0.9"/>
</g>
<g transform="translate(560,70) scale(0.18033)">
<path d="M145,150 L245,130 L270,182 L300,170 L328,150 L305,125 L288,100 L282,70 L305,48 L345,15 L365,30 L395,55 L430,60 L440,40 L445,0 L620,0 L620,55 L545,58 L525,68 L510,100 L500,125 L440,130 L405,148 L390,180 L380,200 L350,215 L300,225 L190,228 L190,260 L195,280 L210,300 L215,325 L200,310 L180,300 L165,280 L155,245 L150,200 Z" fill="#ffff00"/>
<path d="M120,65 L140,50 L180,45 L200,55 L215,80 L235,110 L245,130 L215,135 L185,145 L160,155 L145,150 L135,120 L125,95 Z" fill="#ff0000"/>
<path d="M30,310 L50,290 L90,280 L130,275 L160,280 L165,300 L160,320 L135,330 L125,360 L120,395 L110,420 L90,430 L70,420 L55,400 L45,375 L35,345 Z" fill="#003485"/>
<path d="M258,255 L320,255 L330,270 L325,330 L330,370 L328,405 L310,410 L290,405 L280,370 L275,320 L265,290 Z" fill="#003485"/>
<path d="M320,260 L340,258 L345,290 L340,330 L345,365 L330,370 L325,330 L322,290 Z" fill="#ff0000"/>
<path d="M345,255 L380,258 L410,275 L420,290 L440,305 L470,330 L500,350 L510,365 L490,370 L460,345 L440,325 L410,300 L385,285 L360,280 L345,275 Z" fill="#ffff00"/>
<path d="M435,382 L450,380 L455,405 L440,410 Z" fill="#ffff00"/>
<g fill="none" stroke="#222" stroke-width="0.9" stroke-linejoin="round">
<path d="M120,65 L140,50 L180,45 L200,55 L215,80 L235,110 L250,140 L270,182 L300,170 L328,150 L305,125 L288,100 L282,70 L305,48 L345,15 L365,30 L395,55 L430,60 L440,40 L445,0"/>
<path d="M120,65 L125,95 L145,150 L150,200 L155,250 L170,290 L200,310 L212,330 L218,380 L222,415 L290,412 L330,405"/>
<path d="M340,280 L370,282 L400,300 L430,320 L470,345 L510,380 L545,410 L520,425 L480,420 L450,400 L440,380 L430,400 L435,440 L445,499"/>
</g>
</g>
<g transform="translate(500,140) scale(0.17039)">
<path d="M12,352 L65,345 L85,275 L115,255 L165,308 L230,285 L290,265 L300,280 L350,235 L375,160 L395,175 L425,215 L460,215 L478,242 L510,240 L530,165 L555,160 L575,205 L600,215 L640,195 L670,180 L705,185 L740,210 L780,240 L825,265 L860,155 L830,110 L810,50 L808,15 L820,0" fill="none" stroke="#222" stroke-width="0.9" stroke-linejoin="round"/>
<circle cx="380" cy="165" r="9" fill="#ffff00"/><circle cx="290" cy="263" r="6" fill="#ffff00"/><circle cx="820" cy="6" r="9" fill="#ffff00"/>
</g>
</g>
<g id="inset2" clip-path="url(#c2)">
<g transform="translate(729,13) scale(0.41683)">
<path d="M115,165 L125,155 L147,147 L160,152 L173,162 L190,172 L208,176 L250,175 L270,175 L320,177 L330,215 L320,240 L310,250 L300,265 L270,272 L230,270 L200,260 L170,235 L150,210 L125,190 Z" fill="#ff0000"/>
<path d="M175,172 L208,176 L250,175 L270,175 L320,177 L330,215 L320,240 L310,250 L300,265 L270,272 L230,270 L200,260 L170,235 L148,207 L140,195 Z" fill="#00ff00"/>
<path d="M135,167 L150,162 L170,170 L190,177 L250,176 L295,180 L314,185 L322,215 L309,245 L290,262 L250,266 L212,258 L182,236 L160,214 L142,192 Z" fill="#003485"/>
<g fill="#ffff00">
<path d="M359,0 L372,0 L362,20 L350,50 L342,75 L340,100 L345,130 L357,160 L372,185 L392,215 L410,250 L422,292 L407,297 L397,270 L385,250 L380,225 L362,195 L345,160 L334,120 L332,75 L347,30 Z"/>
</g>
<g fill="none" stroke-linejoin="round">
<path d="M405,2 L395,20 L388,40 L380,55 L373,80 L368,110 L365,140 L366,165" stroke="#ffff00" stroke-width="2.5"/>
<path d="M404,193 L403,176 L414,164 L432,154 L462,140 L486,127 L499,117" stroke="#ffff00" stroke-width="3.5"/>
<path d="M404,196 L450,197 L480,196 L499,194" stroke="#ffff00" stroke-width="2.5"/>
<path d="M492,300 L480,330 L479,345 L476,375 L478,398 L488,410 L499,414" stroke="#ffff00" stroke-width="3"/>
<path d="M494,72 L499,72 L499,85 L494,85" stroke="#ffff00" stroke-width="2"/>
</g>
<g fill="none" stroke="#222" stroke-width="0.9" stroke-linejoin="round">
<path d="M359,0 L347,30 L332,75 L334,120 L345,160 L362,195 L380,225 L390,250 L407,297 L422,292"/>
<path d="M409,2 L399,20 L392,40 L385,55 L377,80 L372,110 L369,140 L370,165"/>
<path d="M399,190 L398,172 L410,158 L428,148 L458,133 L484,120 L499,110"/>
<path d="M399,190 L404,200 L450,201 L480,200 L499,198"/>
<path d="M499,298 L484,328 L474,344 L471,374 L474,400 L484,413 L499,420"/>
<path d="M2,55 L20,90 L40,130 L60,170 L75,190 L95,220 L115,249 L135,269 L160,294 L190,319 L220,339 L249,358 L299,384 L349,409 L389,439 L419,464 L444,499"/>
<path d="M2,135 L20,160 L40,190 L55,220 L70,252 L85,264 L110,289 L135,314 L160,339 L182,354 L210,372 L235,387 L249,396 L289,419 L329,442 L359,464 L384,484 L394,499"/>
<path d="M77,2 L82,22 L92,45 L102,75 L95,85 L107,107 L115,115 L77,122 L85,140 L97,155 L105,170 L75,187"/>
<path d="M2,294 L15,309 L27,322 L40,304 L52,294 L62,284 L65,264 L72,252"/>
<path d="M182,354 L165,369 L180,382 L197,394 L205,409 L210,429 L215,439 L220,459 L225,479 L227,499"/>
<path d="M210,439 L160,439 L132,427 L100,429 L57,437 L62,459 L80,469 L80,484 L75,499"/>
<path d="M230,392 L237,414 L245,439 L249,449 L257,469 L262,499"/>
<path d="M115,165 L125,155 L147,147 L160,152 L173,162 L190,172 L208,176" stroke-width="0.6"/>
</g>
</g>
<path d="M772,15 L776.5,14 L782,13.5 L789,13 L789,13.8 L783.7,15.6 L777.3,17.4 L774.1,17.6 L772,17 Z" fill="#ffff00"/>
<path d="M764,24.2 L767.2,21.4 L771.3,17.6 L776.5,17.4 L783.7,15.9 L789,14" fill="none" stroke="#222" stroke-width="0.9"/>
<path d="M763.8,23.6 L768,20.8" fill="none" stroke="#e0d800" stroke-width="1.3"/>
<path d="M820,14.2 L831.7,14.2 L831.3,17 L828.4,20.2 L824.4,22.6 L820.4,25.8 L818.8,21.8 L820.8,17.8 Z" fill="#ffff00" stroke="#222" stroke-width="0.5"/>
<path d="M830.4,31.8 L834.1,27.4 L840.9,20.6 L843.7,14.6 L844.9,14.6 L844.5,17.8 L842.1,21.8 L840.9,27.8 L844.5,28.2 L847.7,25.8 L849.3,21.8 L852.5,16.6 L853.7,14.2 L856.5,14.2 L855.7,18.6 L854.5,23.4 L853.3,27 L849.3,30.6 L843.7,34.3 L839.3,37.5 L834.9,35.5 Z" fill="#ffff00" stroke="#222" stroke-width="0.5"/>
</g>
<g id="inset3" clip-path="url(#c3)">
<g transform="translate(956,13) scale(0.41683)">
<g fill="#003485">
<path d="M220,57 L249,55 L299,52 L349,47 L364,35 L377,25 L380,60 L387,115 L364,120 L352,122 L344,110 L332,100 L249,105 L232,105 L227,90 L222,70 Z"/>
<path d="M387,2 L499,0 L499,75 L477,70 L454,62 L437,50 L422,52 L404,40 L392,22 Z"/>
<path d="M494,90 L499,90 L499,172 L474,172 L479,150 L487,120 Z"/>
<path d="M384,274 L409,272 L442,269 L444,324 L449,327 L452,399 L464,397 L484,377 L499,364 L499,439 L464,437 L434,439 L392,442 L389,402 L299,407 L284,377 L277,359 L294,354 L339,352 L382,347 L384,309 Z"/>
<path d="M484,464 L499,444 L499,499 L469,499 Z"/>
</g>
<path d="M165,130 L175,115 L200,107 L230,105 L300,100 L344,110 L352,122 L357,165 L364,215 L362,250 L355,275 L344,294 L324,304 L249,317 L220,312 L200,299 L190,274 L187,249 L185,230 L172,205 L165,180 L162,155 Z" fill="#ffff00"/>
<path d="M230,105 L249,102 L279,102 L314,97 L332,100 L344,110 L352,122 L324,125 L294,127 L249,130 L235,132 Z" fill="#00ff00"/>
<path d="M190,135 L232,132 L324,125 L330,190 L332,270 L324,277 L249,289 L217,284 L215,249 L212,235 L207,210 L195,205 L192,170 Z" fill="#c0c0c0" stroke="#222" stroke-width="0.9"/>
<path d="M330,188 L342,186 L345,230 L336,240 L332,210 Z" fill="#ff0000"/>
<path d="M387,0 L394,25 L409,45 L424,50 L439,40 L454,10 L459,0" fill="none" stroke="#00ff00" stroke-width="2.6"/>
<path d="M424,499 L469,437 L499,445" fill="none" stroke="#222" stroke-width="0.9"/>
<path d="M464,434 L484,434 L484,440 L464,440 Z" fill="#ff0000"/>
<path d="M0,484 L25,499" fill="none" stroke="#222" stroke-width="0.9"/>
</g>
</g>

<!-- legend swatches -->
<g stroke="#7a7a7a" stroke-width="1.5">
<rect x="455.8" y="292.9" width="48" height="23.5" fill="#c0c0c0"/>
<rect x="455.8" y="325.9" width="48" height="23.5" fill="#ffff00"/>
<rect x="455.8" y="358.7" width="48" height="23.5" fill="#00ff00"/>
<rect x="455.8" y="391.6" width="48" height="23.5" fill="#ff0000"/>
<rect x="455.8" y="424.5" width="48" height="23.5" fill="#003485"/>
</g>
<!-- cloud icon -->
<path d="M462.03,258.02 C463.37,257.65 466.18,257.38 467.65,257.38 C469.12,257.38 469.92,257.58 470.86,258.02 C471.79,258.46 472.33,259.46 473.26,260.03 C474.20,260.59 475.20,261.19 476.47,261.39 C477.74,261.59 479.68,261.66 480.88,261.23 C482.08,260.80 482.69,259.56 483.69,258.82 C484.69,258.09 485.69,257.46 486.90,256.82 C488.10,256.18 489.44,255.33 490.91,254.97 C492.38,254.61 494.52,254.28 495.72,254.65 C496.92,255.03 497.86,256.12 498.13,257.22 C498.39,258.32 497.79,259.89 497.32,261.23 C496.86,262.57 495.59,264.17 495.32,265.24 C495.05,266.31 495.05,266.84 495.72,267.65 C496.39,268.45 498.26,269.12 499.33,270.05 C500.40,270.99 501.60,272.06 502.14,273.26 C502.67,274.46 502.74,276.07 502.54,277.27 C502.34,278.48 501.80,279.54 500.93,280.48 C500.07,281.42 498.73,282.29 497.32,282.89 C495.92,283.49 493.98,284.16 492.51,284.09 C491.04,284.02 489.84,283.22 488.50,282.49 C487.16,281.75 486.10,280.48 484.49,279.68 C482.89,278.88 480.61,277.81 478.88,277.67 C477.14,277.54 475.80,278.21 474.06,278.88 C472.33,279.54 470.19,280.95 468.45,281.68 C466.71,282.42 464.97,283.35 463.64,283.29 C462.30,283.22 461.23,282.29 460.43,281.28 C459.63,280.28 459.36,278.74 458.82,277.27 C458.29,275.80 457.62,274.06 457.22,272.46 C456.82,270.86 456.35,269.25 456.42,267.65 C456.48,266.04 457.09,264.17 457.62,262.83 C458.15,261.50 458.89,260.43 459.63,259.63 C460.36,258.82 460.69,258.40 462.03,258.02 Z" fill="#fff" stroke="#444" stroke-width="1"/>

<!-- main scale bar -->
<rect x="20" y="458.3" width="168" height="10" rx="0.8" fill="#000"/>
<rect x="187.5" y="459" width="164.1" height="8.6" fill="#fff" stroke="#1a1a1a" stroke-width="1.4"/>
<!-- inset scale bar -->
<rect x="972.6" y="248.7" width="85.2" height="9.4" rx="0.8" fill="#000"/>
<rect x="1057.3" y="249.4" width="81.5" height="8" fill="#fff" stroke="#1a1a1a" stroke-width="1.4"/>

<!-- north arrow -->
<g transform="translate(1140.8,472.2)">
<path d="M0,-22 Q1.5,-8 3.6,-3.6 Q8,-1.5 21.5,0 Q8,1.5 3.6,3.6 Q1.5,8 0,23 Q-1.5,8 -3.6,3.6 Q-8,1.5 -21.5,0 Q-8,-1.5 -3.6,-3.6 Q-1.5,-8 0,-22 Z" fill="#fff" stroke="#111" stroke-width="0.6"/>
<path d="M0,-22 Q1.5,-8 3.6,-3.6 L0,0 Z M21.5,0 Q8,1.5 3.6,3.6 L0,0 Z M0,23 Q-1.5,8 -3.6,3.6 L0,0 Z M-21.5,0 Q-8,-1.5 -3.6,-3.6 L0,0 Z" fill="#000"/>
</g>
</svg>

<!-- inset labels -->
<div class="lbl" style="left:511.2px;top:159.5px;font-size:22.5px;font-weight:bold;-webkit-text-stroke:0;">1</div>
<div class="lbl" style="left:734.7px;top:159.3px;font-size:23px;">2</div>
<div class="lbl" style="left:965px;top:159.5px;font-size:23px;">3</div>
<!-- map labels -->
<div class="lbl" style="left:38px;top:59px;font-size:18px;">1</div>
<div class="lbl" style="left:131.5px;top:249px;font-size:18px;">2</div>
<div class="lbl" style="left:376.5px;top:45px;font-size:18px;">3</div>

<!-- legend text -->
<div class="t" style="left:513.4px;top:260px;">Category Borders at 2006</div>
<div class="t" style="left:513.4px;top:295px;">Correct Rejections = reference persistence simulated correctly (97.41%)</div>
<div class="t" style="left:513.4px;top:328px;">False Alarms = reference persistence simulated as change (1.47%)</div>
<div class="t" style="left:513.4px;top:360.8px;">Wrong Hits = reference change simulated as change to wrong category (0.04%)</div>
<div class="t" style="left:513.4px;top:393.6px;">Hits = reference change simulated correctly (0.02%)</div>
<div class="t" style="left:513.4px;top:426.4px;">Misses = reference change simulated as persistence (1.06%)</div>

<!-- scale numbers -->
<div class="n" style="left:16.3px;top:436.3px;">0</div>
<div class="n" style="left:178.3px;top:436.3px;">10</div>
<div class="n" style="left:343px;top:436.3px;">20</div>
<div class="n" style="left:356.3px;top:453.3px;">km</div>
<div class="n" style="left:969px;top:225.8px;">0</div>
<div class="n" style="left:1051.7px;top:225.8px;">1</div>
<div class="n" style="left:1134.4px;top:225.8px;">2</div>
<div class="n" style="left:1143.3px;top:242.8px;">km</div>
<div style="position:absolute;left:1137px;top:437px;font-family:'Liberation Sans',sans-serif;font-size:9px;color:#667;line-height:1;">N</div>
</body></html>
